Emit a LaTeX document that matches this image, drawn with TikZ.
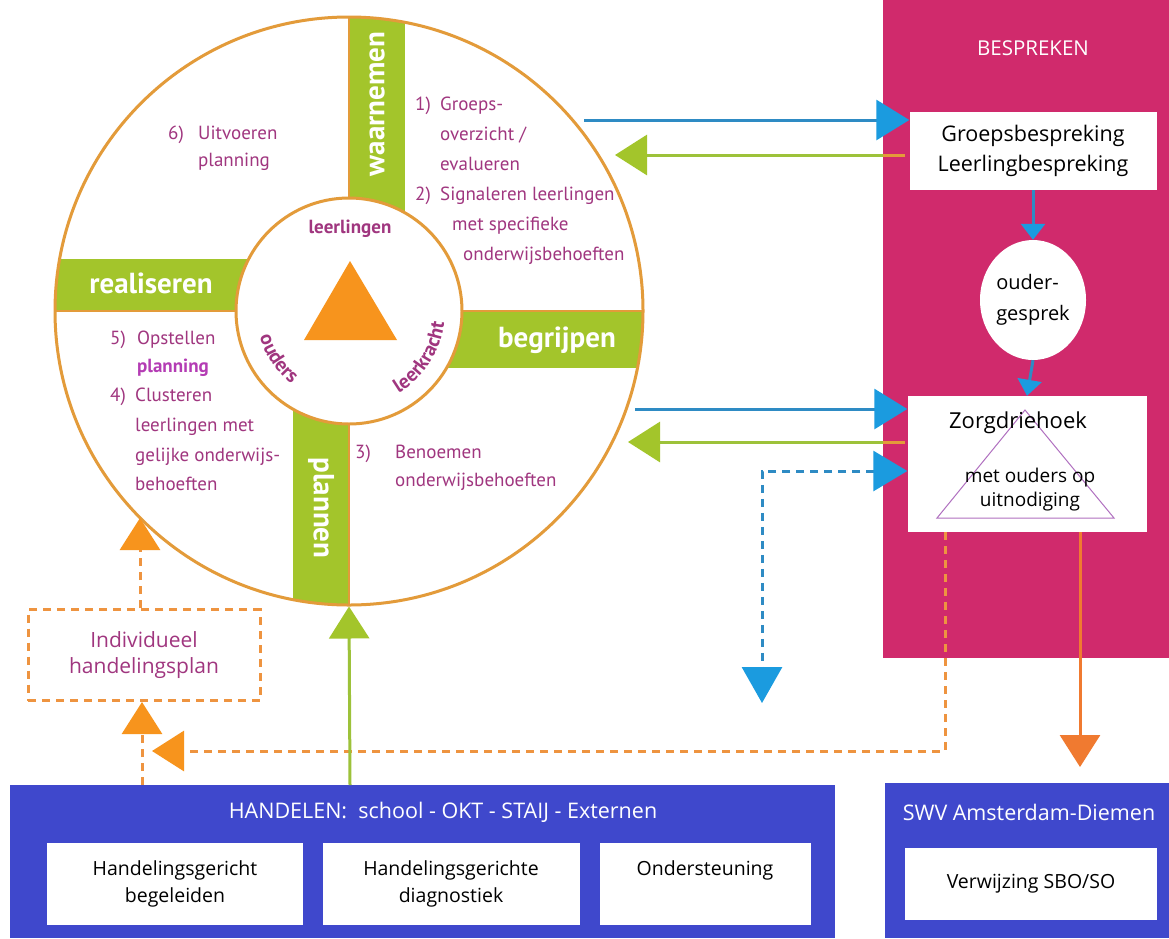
\documentclass[tikz,border=0pt]{standalone}
\usepackage{fontspec}
\setmainfont{Open Sans}
\newfontfamily\circfont{PT Sans}
\usetikzlibrary{arrows.meta,shapes.geometric,decorations.text}
\definecolor{ring}{HTML}{E39B3A}
\definecolor{lime}{HTML}{A3C52B}
\definecolor{purp}{HTML}{A0367F}
\definecolor{purpb}{HTML}{B43CB4}
\definecolor{tri}{HTML}{F7941D}
\definecolor{mag}{HTML}{D02A6C}
\definecolor{indigo}{HTML}{3F48CC}
\definecolor{cyanT}{HTML}{1B9BDF}
\definecolor{bline}{HTML}{2E8BC4}
\definecolor{orng}{HTML}{F07A30}
\definecolor{orngd}{HTML}{EE9440}
\definecolor{gline}{HTML}{9DC23A}
\definecolor{trip}{HTML}{B070C0}
\begin{document}
\begin{tikzpicture}[x=1pt,y=-1pt,
  ctext/.style={font=\circfont\fontsize{19}{22}\selectfont, text=purp, anchor=base west, inner sep=0pt},
  barlab/.style={font=\circfont\bfseries\fontsize{29}{32}\selectfont, text=white, inner sep=0pt},
  inlab/.style={font=\circfont\bfseries\fontsize{19}{21}\selectfont, text=purp, inner sep=0pt},
  wbox/.style={fill=white, inner sep=0pt, align=center},
  bigblue/.style={line width=3pt, draw=bline, -{Triangle[length=33pt,width=40pt,color=cyanT]}},
  biggreen/.style={line width=3pt, draw=gline, -{Triangle[length=32pt,width=40pt,color=lime]}},
  smallblue/.style={line width=3pt, draw=bline, -{Triangle[length=16pt,width=24pt,color=cyanT]}},
  orangetip/.style={-{Triangle[length=32pt,width=40pt,color=tri]}},
  odash/.style={line width=3pt, draw=orngd, dash pattern=on 8pt off 6pt},
  bdash/.style={line width=3pt, draw=bline, dash pattern=on 8pt off 6pt}
]
\useasboundingbox[fill=white] (0,0) rectangle (1169,938);

% ---------- circle ----------
\coordinate (cc) at (349,311);
\fill[white] (cc) circle[radius=294pt];
\begin{scope}
  \clip (cc) circle[radius=294pt];
  \fill[lime] (349,0) rectangle (405,311);   % waarnemen
  \fill[lime] (293,311) rectangle (349,620); % plannen
  \fill[lime] (40,259) rectangle (349,311);  % realiseren
  \fill[lime] (349,311) rectangle (660,368); % begrijpen
  \draw[ring, line width=2pt] (349,0) -- (349,620);
  \draw[ring, line width=2pt] (40,311) -- (660,311);
\end{scope}
\node[circle, draw=ring, line width=3pt, minimum size=588pt, inner sep=0pt] (outer) at (cc) {};
\node[circle, fill=white, draw=ring, line width=3pt, minimum size=226pt, inner sep=0pt] (inner) at (cc) {};
\fill[tri] (350,261) -- (304,340) -- (397,340) -- cycle;

\node[inlab] (lrl) at (350,229) {leerlingen};
\path[decorate, decoration={text along path, text align=center,
   text={|\circfont\bfseries\fontsize{20}{22}\selectfont\color{purp}|ouders}}]
   (cc) ++(182:93pt) arc[start angle=182, end angle=246, radius=93pt];
\path[decorate, decoration={text along path, text align=center,
   text={|\circfont\bfseries\fontsize{20}{22}\selectfont\color{purp}|leerkracht}}]
   (cc) ++(-72:96pt) arc[start angle=-72, end angle=6, radius=96pt];

\node[barlab, rotate=90] (waar) at (377,104) {waarnemen};
\node[barlab, rotate=-90] (plan) at (321,508) {plannen};
\node[barlab] (real) at (151,283) {realiseren};
\node[barlab] (begr) at (557,340) {begrijpen};

% quadrant texts
\node[ctext] at (168,139) {\makebox[30pt][l]{6)}Uitvoeren};
\node[ctext] at (198,166) {planning};
\node[ctext] at (415,110) {\makebox[25pt][l]{1)}Groeps-};
\node[ctext] at (440,140) {overzicht /};
\node[ctext] at (440,170) {evalueren};
\node[ctext] at (415,200) {\makebox[25pt][l]{2)}Signaleren leerlingen};
\node[ctext] at (452,230) {met specifieke};
\node[ctext] at (463,260) {onderwijsbehoeften};
\node[ctext] at (110,344) {\makebox[27pt][l]{5)}Opstellen};
\node[ctext, text=purpb, font=\circfont\bfseries\fontsize{19}{22}\selectfont] at (137,372) {planning};
\node[ctext] at (110,401) {\makebox[25pt][l]{4)}Clusteren};
\node[ctext] at (135,431) {leerlingen met};
\node[ctext] at (135,461) {gelijke onderwijs-};
\node[ctext] at (135,490) {behoeften};
\node[ctext] at (355,458) {\makebox[40pt][l]{3)}Benoemen};
\node[ctext] at (395,486) {onderwijsbehoeften};

% ---------- right panel ----------
\fill[mag] (883,0) rectangle (1169,658);
\node[text=white, font=\fontsize{20.5}{22}\selectfont] (besp) at (1033,48) {BESPREKEN};
\node[wbox, minimum width=247pt, minimum height=78pt, font=\fontsize{21.5}{30}\selectfont] (gb) at (1033,151) {Groepsbespreking\\Leerlingbespreking};
\node[ellipse, fill=white, inner sep=0pt, minimum width=106pt, minimum height=120pt, align=left, font=\fontsize{20}{31}\selectfont] (og) at (1033,300) {ouder-\\gesprek};
\node[fill=white, inner sep=0pt, minimum width=239pt, minimum height=136pt] (zd) at (1027,464) {};
\draw[trip, line width=1pt] (1025,410) -- (937,518) -- (1114,518) -- cycle;
\node[font=\fontsize{22}{24}\selectfont] (zdt) at (1018,423) {Zorgdriehoek};
\node[font=\fontsize{19}{24}\selectfont, align=center] (zdm) at (1030,490) {met ouders op\\uitnodiging};

\draw[smallblue] (gb.south) -- (og.north);
\draw[smallblue] (og.south) -- (zd.north);

% ---------- arrows between circle and panel ----------
\coordinate (b1) at (584,120);
\coordinate (g1) at (905,155);
\coordinate (b2) at (635,409);
\coordinate (g2) at (905,442);
\draw[bigblue] (b1) -- (b1 -| gb.west);
\draw[biggreen] (g1) -- (615,155);
\draw[ring, line width=3pt] (g1) -- ++(-22,0);
\draw[bigblue] (b2) -- (b2 -| zd.west);
\draw[biggreen] (g2) -- (628,442);
\draw[ring, line width=3pt] (g2) -- ++(-22,0);

\coordinate (bd1) at (762,471);
\coordinate (bd2) at (762,703);
\draw[bdash, {Triangle[length=34pt,width=40pt,color=cyanT]}-{Triangle[length=36pt,width=40pt,color=cyanT]}] (zd.west |- bd1) -- (bd1) -- (bd2);

% orange from Zorgdriehoek
\coordinate (od1) at (945,751);
\coordinate (odend) at (152,751);
\draw[odash, orangetip] (zd.south -| od1) -- (od1) -- (odend);
\coordinate (os) at (1080,767);
\draw[line width=3pt, orng, -{Triangle[length=32pt,width=40pt,color=orng]}] (zd.south -| os) -- (os);

% ---------- bottom panels ----------
\fill[indigo] (10,785) rectangle (835,938);
\node[text=white, font=\fontsize{21.5}{24}\selectfont] (hand) at (443,812) {HANDELEN:\ \ school - OKT - STAIJ - Externen};
\node[wbox, minimum width=256pt, minimum height=82pt, font=\fontsize{19.5}{27}\selectfont] (hb1) at (175,884) {Handelingsgericht\\begeleiden};
\node[wbox, minimum width=257pt, minimum height=82pt, font=\fontsize{19.5}{27}\selectfont] (hb2) at (451,884) {Handelingsgerichte\\diagnostiek};
\node[wbox, minimum width=211pt, minimum height=82pt, anchor=north] (hb3) at (705,843) {};
\node[font=\fontsize{19.5}{22}\selectfont] (hb3t) at (705,870) {Ondersteuning};

\fill[indigo] (885,783) rectangle (1169,938);
\node[text=white, font=\fontsize{21.5}{24}\selectfont] (swv) at (1029,812) {SWV Amsterdam-Diemen};
\node[wbox, minimum width=252pt, minimum height=72pt, font=\fontsize{19.5}{22}\selectfont] (verw) at (1031,884) {Verwijzing SBO/SO};

% ---------- individueel handelingsplan ----------
\node[draw=orngd, line width=3pt, dash pattern=on 8pt off 6pt, minimum width=232pt, minimum height=91pt, inner sep=0pt, align=center, text=purp, font=\fontsize{21}{26}\selectfont] (ihp) at (144,655) {Individueel\\handelingsplan};
\coordinate (ihpup) at (140,518);
\draw[odash, orangetip] (ihp.north -| ihpup) -- (ihpup);
\coordinate (ihpbot) at (142,785);
\draw[odash, orangetip] (ihpbot) -- (ihpbot |- ihp.south);

% green arrow to circle
\coordinate (gbot) at (350,785);
\draw[line width=3pt, draw=gline, -{Triangle[length=32pt,width=40pt,color=lime]}] (gbot) -- (outer.south);
\end{tikzpicture}
\end{document}
